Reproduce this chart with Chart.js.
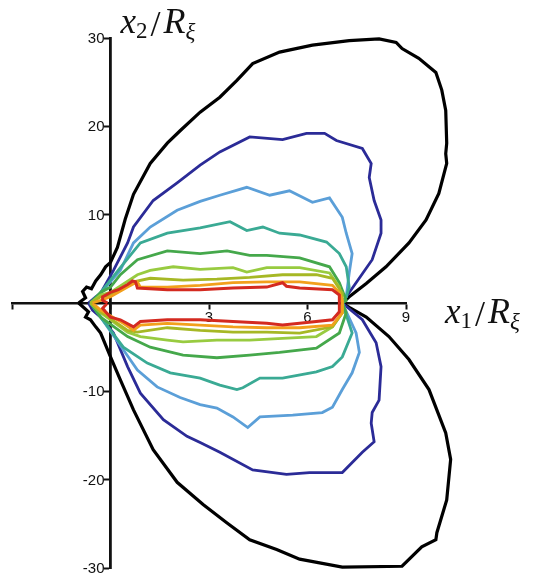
<!DOCTYPE html>
<html>
<head>
<meta charset="utf-8">
<script src="https://cdn.jsdelivr.net/npm/chart.js@4.4.0/dist/chart.umd.min.js"></script>
<style>
  html, body { margin: 0; padding: 0; background: #fff; }
  #wrap { width: 541px; height: 577px; }
</style>
</head>
<body>
<div id="wrap"><canvas id="chart" width="541" height="577"></canvas></div>
<script>
// Contour levels. Each closed curve = upper half (left -> right) + lower half (right -> left)
const blackUpper = [[-0.97,0],[-0.76,0.6],[-0.85,1.3],[-0.73,1.8],[-0.58,1.6],[-0.45,2.5],[-0.30,3.2],[-0.15,4.1],[0,4.6],[0.21,6.3],[0.45,9.5],[0.70,12.3],[1.21,15.8],[1.73,18.1],[2.12,19.5],[2.73,21.6],[3.33,23.3],[3.85,25.2],[4.33,27.1],[5.15,28.4],[6.15,29.2],[7.27,29.7],[8.18,29.9],[8.70,29.5],[8.88,28.8],[9.39,27.7],[9.91,26.1],[10.09,24.1],[10.21,21.8],[10.24,18.1],[10.21,16.9],[10.24,15.8],[10.0,12.4],[9.61,9.4],[9.09,6.8],[8.39,4.1],[7.79,2.2],[7.27,0.7],[7.06,0]];
const blackLower = [[7.27,-0.5],[7.79,-1.6],[8.48,-3.8],[9.09,-6.4],[9.70,-9.8],[10.21,-14.7],[10.36,-17.7],[10.24,-22.3],[9.94,-26.0],[9.91,-26.8],[9.48,-27.6],[8.88,-29.8],[7.06,-29.9],[5.76,-29.0],[5.06,-27.9],[4.24,-26.8],[3.55,-24.9],[2.82,-22.8],[2.03,-20.3],[1.30,-16.6],[0.70,-12.1],[0.30,-8.7],[0,-6.1],[-0.30,-3.4],[-0.45,-2.7],[-0.61,-1.9],[-0.76,-1.6],[-0.67,-1.0],[-0.91,-0.2],[-0.97,0]];

const navyUpper = [[-0.67,0],[-0.45,0.7],[-0.30,1.1],[0.09,3.7],[0.52,6.8],[0.70,8.6],[1.30,11.6],[2.03,13.6],[2.73,15.6],[3.33,17.1],[4.24,18.8],[5.24,18.5],[5.97,19.2],[6.52,19.2],[6.88,18.4],[7.67,17.5],[7.94,15.8],[7.88,14.2],[8.03,11.6],[8.24,9.4],[8.24,7.9],[7.97,4.9],[7.48,2.3],[7.18,0.7],[7.06,0]];
const navyLower = [[7.67,-1.9],[8.09,-4.5],[8.24,-7.2],[8.18,-11.0],[7.97,-12.4],[7.94,-13.6],[8.03,-15.7],[7.67,-16.9],[7.06,-19.2],[6.06,-19.2],[5.36,-19.4],[4.33,-18.9],[3.33,-16.9],[2.73,-15.8],[2.33,-15.1],[1.61,-13.2],[0.91,-10.2],[0.52,-7.2],[0.09,-3.4],[-0.30,-1.6],[-0.55,-0.8],[-0.67,0]];

const lightBlueUpper = [[-0.61,0],[-0.45,0.6],[-0.30,1.1],[0.30,3.7],[0.70,6.8],[1.21,8.6],[2.03,10.5],[2.73,11.5],[3.33,12.2],[4.15,13.1],[4.85,12.2],[5.45,12.7],[6.15,11.4],[6.67,11.9],[7.06,9.7],[7.18,7.9],[7.36,5.6],[7.27,3.4],[7.18,0.7],[7.06,0]];
const lightBlueLower = [[7.48,-3.4],[7.58,-5.6],[7.36,-7.9],[7.06,-9.8],[6.76,-11.8],[6.45,-12.4],[5.55,-12.7],[4.55,-12.9],[4.18,-14.1],[3.73,-12.9],[3.24,-11.9],[2.73,-11.5],[2.12,-10.7],[1.42,-9.5],[0.82,-7.6],[0.39,-5.3],[-0.30,-1.6],[-0.45,-0.8],[-0.61,0]];

const tealUpper = [[-0.61,0],[-0.30,1.2],[0.30,4.0],[0.91,6.8],[1.73,7.9],[2.73,8.5],[3.64,9.2],[4.15,8.2],[4.64,8.6],[5.15,7.9],[5.76,7.7],[6.58,6.9],[6.97,5.6],[7.18,4.1],[7.27,1.8],[7.18,0.7],[7.06,0]];
const tealLower = [[7.36,-3.4],[7.06,-6.1],[6.76,-7.2],[6.27,-7.8],[5.24,-8.5],[4.55,-8.5],[4.03,-9.6],[3.85,-9.8],[3.33,-9.3],[2.73,-8.5],[1.82,-7.9],[1.12,-6.8],[0.39,-5.0],[-0.30,-1.6],[-0.61,0]];

const greenUpper = [[-0.61,0],[-0.30,1.2],[0,1.8],[0.30,3.2],[0.82,4.9],[1.73,5.9],[2.73,5.6],[3.55,5.9],[4.24,5.4],[4.76,5.4],[5.76,5.1],[6.67,4.1],[6.97,2.3],[7.18,0.3],[7.06,0]];
const greenLower = [[7.18,-1.1],[6.97,-3.4],[6.27,-5.1],[5.15,-5.6],[4.24,-5.9],[3.24,-6.2],[2.21,-5.9],[1.21,-5.0],[0.52,-3.8],[-0.30,-1.6],[-0.61,0]];

const limeUpper = [[-0.61,0],[-0.30,0.9],[0,1.2],[0.82,3.2],[1.21,3.7],[1.91,4.1],[2.73,3.8],[3.73,4.0],[4.15,3.5],[4.76,4.0],[5.76,4.0],[6.67,3.4],[6.97,1.8],[7.06,0]];
const limeLower = [[7.06,-1.1],[6.76,-2.7],[6.27,-3.8],[5.24,-4.0],[4.24,-4.2],[3.24,-4.2],[2.21,-4.4],[1.73,-4.2],[0.91,-3.8],[0.52,-3.3],[-0.30,-1.1],[-0.61,0]];

const oliveUpper = [[-0.61,0],[-0.30,0.7],[0,0.9],[0.70,2.4],[1.21,2.8],[2.21,2.6],[3.24,2.7],[4.24,2.9],[5.24,3.2],[6.27,3.2],[6.76,2.8],[7.06,1.1],[7.06,0]];
const oliveLower = [[7.06,-1.1],[6.76,-2.7],[5.76,-3.4],[4.76,-3.3],[3.73,-3.3],[2.73,-3.1],[1.73,-2.8],[0.82,-3.3],[0.52,-3.1],[-0.30,-1.0],[-0.61,0]];

const orangeUpper = [[-0.55,0],[-0.30,0.3],[0,0.7],[0.52,1.8],[0.82,2.4],[0.91,1.8],[1.73,1.8],[2.73,2.0],[3.73,2.3],[4.76,2.4],[5.76,2.4],[6.76,2.0],[6.97,1.2],[7.06,0.3],[7.06,0]];
const orangeLower = [[7.06,-1.1],[6.76,-2.5],[5.76,-2.8],[4.76,-2.8],[3.73,-2.7],[2.73,-2.5],[1.73,-2.3],[0.91,-2.5],[0.70,-3.1],[0.39,-2.3],[-0.30,-0.8],[-0.55,0]];

const redUpper = [[-0.09,0],[-0.24,0.3],[-0.24,0.7],[0,1.2],[0.24,1.5],[0.52,2.1],[0.67,2.5],[0.76,2.4],[0.82,1.7],[1.73,1.5],[2.73,1.5],[3.73,1.7],[4.76,1.8],[5.24,2.3],[5.36,1.9],[5.76,1.7],[6.76,1.5],[6.97,0.9],[6.97,0]];
const redLower = [[6.97,-1.0],[6.76,-1.9],[5.76,-2.3],[5.24,-2.5],[4.76,-2.3],[3.73,-2.1],[2.73,-1.9],[1.73,-1.9],[0.91,-2.1],[0.70,-2.7],[0.30,-1.9],[0,-1.6],[-0.15,-1.0],[-0.24,-0.6],[-0.09,0]];

// axis ticks
const xTicks = [3, 6, 9];
const yTicks = [-30, -20, -10, 10, 20, 30];

const contours = [
  { upper: redUpper, lower: redLower, color: '#d42a20', width: 3 },
  { upper: orangeUpper, lower: orangeLower, color: '#f2a01c', width: 2.8 },
  { upper: oliveUpper, lower: oliveLower, color: '#a6b825', width: 2.8 },
  { upper: limeUpper, lower: limeLower, color: '#98cb40', width: 2.8 },
  { upper: greenUpper, lower: greenLower, color: '#45a84b', width: 2.8 },
  { upper: tealUpper, lower: tealLower, color: '#3aaa94', width: 2.8 },
  { upper: lightBlueUpper, lower: lightBlueLower, color: '#5b9fd8', width: 2.8 },
  { upper: navyUpper, lower: navyLower, color: '#2b2b97', width: 2.8 },
  { upper: blackUpper, lower: blackLower, color: '#000000', width: 3.2 }
];

const datasets = contours.map(c => ({
  data: c.upper.concat(c.lower).map(p => ({ x: p[0], y: p[1] })),
  showLine: true,
  borderColor: c.color,
  borderWidth: c.width,
  pointRadius: 0,
  fill: false,
  tension: 0,
  clip: false
}));

// draws x_i/R_xi style labels
function drawMath(ctx, left, base, idx) {
  ctx.save();
  ctx.fillStyle = '#111';
  ctx.textBaseline = 'alphabetic';
  let cx = left;
  ctx.font = 'italic 35px "Liberation Serif"';
  ctx.fillText('x', cx, base);
  cx += ctx.measureText('x').width;
  ctx.font = '23px "Liberation Serif"';
  ctx.fillText(idx, cx, base + 5);
  cx += ctx.measureText(idx).width + 3;
  ctx.font = '36px "Liberation Serif"';
  ctx.fillText('/', cx, base + 3);
  cx += ctx.measureText('/').width + 3;
  ctx.font = 'italic 36px "Liberation Serif"';
  ctx.fillText('R', cx, base);
  cx += ctx.measureText('R').width;
  ctx.font = 'italic 23px "Liberation Serif"';
  ctx.fillText('ξ', cx, base + 6);
  ctx.restore();
}

const axisText = {
  id: 'axisText',
  afterDraw(chart) {
    const { ctx, scales: { x, y } } = chart;
    const x0 = x.getPixelForValue(0);
    // y tick labels, left of the tick marks
    ctx.save();
    ctx.fillStyle = '#111';
    ctx.font = '15px "Liberation Sans"';
    ctx.textAlign = 'right';
    ctx.textBaseline = 'middle';
    yTicks.forEach(v => ctx.fillText(String(v), x0 - 6, y.getPixelForValue(v) + 1));
    ctx.restore();
    drawMath(ctx, x0 + 10, y.getPixelForValue(30) - 5, '2');
    drawMath(ctx, x.getPixelForValue(9) + 39, y.getPixelForValue(0) + 20, '1');
  }
};

new Chart(document.getElementById('chart'), {
  type: 'scatter',
  data: { datasets: datasets },
  options: {
    responsive: false,
    animation: false,
    layout: { padding: { left: 12, right: 135, top: 38, bottom: 9 } },
    plugins: { legend: { display: false }, tooltip: { enabled: false } },
    scales: {
      x: {
        type: 'linear',
        min: -3,
        max: 9,
        position: { y: 0 },
        afterBuildTicks: axis => { axis.ticks = [-3, 0].concat(xTicks).map(v => ({ value: v })); },
        ticks: {
          callback: v => xTicks.includes(v) ? String(v) : '',
          color: '#111',
          font: { family: 'Liberation Sans', size: 15 },
          padding: 1,
          maxRotation: 0
        },
        grid: { drawOnChartArea: false, drawTicks: true, tickLength: 5, tickWidth: 2, tickColor: '#111' },
        border: { display: true, color: '#111', width: 2.5 }
      },
      y: {
        type: 'linear',
        min: -30,
        max: 30,
        position: { x: 0 },
        afterBuildTicks: axis => { axis.ticks = yTicks.map(v => ({ value: v })); },
        ticks: { display: false },
        grid: { drawOnChartArea: false, drawTicks: true, tickLength: 5, tickWidth: 2, tickColor: '#111' },
        border: { display: true, color: '#111', width: 2.8 }
      }
    }
  },
  plugins: [axisText]
});
</script>
</body>
</html>
